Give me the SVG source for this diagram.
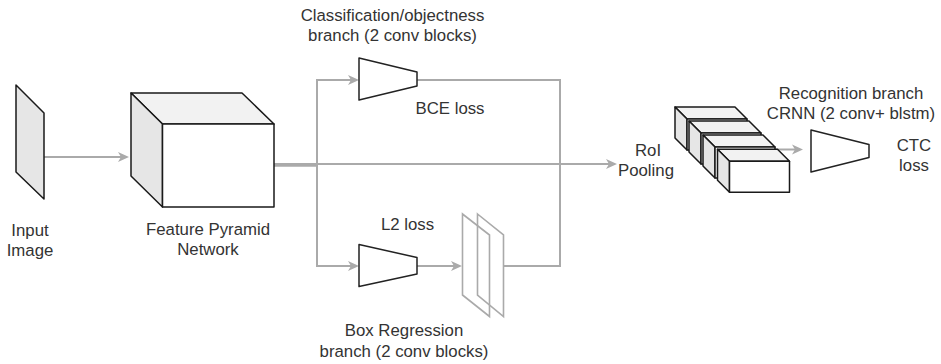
<svg xmlns="http://www.w3.org/2000/svg" width="941" height="364" viewBox="0 0 941 364">
<style>
.t{font-family:"Liberation Sans",Arial,sans-serif;font-size:16.8px;fill:#333;text-anchor:middle}
.e{fill:none;stroke:#aaa;stroke-width:2}
.sh{stroke:#1a1a1a;stroke-width:1.5;stroke-linejoin:round}
.top{fill:#f2f2f2}
.side{fill:#e6e6e6}
.front{fill:#fff}
.trap{fill:#fff;stroke:#222;stroke-width:1.5;stroke-linejoin:round}
.plane{fill:none;stroke:#aaa;stroke-width:1.6}
</style>
<defs>
<marker id="arr" markerUnits="userSpaceOnUse" markerWidth="12" markerHeight="11" refX="5" refY="5" orient="auto" viewBox="0 0 12 10">
<path d="M0,0 L11,5 L0,10 L3,5 Z" fill="#aaa"/>
</marker>
</defs>
<g id="connectors">
<path class="e" d="M44,157 H123" marker-end="url(#arr)"/>
<path class="e" d="M274,165.5 H317 V80 H353" marker-end="url(#arr)"/>
<path class="e" d="M274,165.5 H317 V266 H353" marker-end="url(#arr)"/>
<path class="e" d="M274,164 H611" marker-end="url(#arr)"/>
<path class="e" d="M417,266 H456" marker-end="url(#arr)"/>
<path class="e" d="M417,80 H560 V164"/>
<path class="e" d="M503,266 H560 V164"/>
<path class="e" d="M776,149.5 H797" marker-end="url(#arr)"/>
</g>
<g id="input-image">
<polygon class="sh side" points="16,85 44,113 44,199 16,172"/>
<text class="t" x="30" y="235.5">Input</text>
<text class="t" x="30" y="255.5">Image</text>
</g>
<g id="fpn">
<polygon class="sh top" points="131,93 242,93 274,124 162.5,124"/>
<polygon class="sh side" points="131,93 162.5,124 162.5,207 131,176"/>
<rect class="sh front" x="162.5" y="124" width="111.5" height="83"/>
<text class="t" x="208" y="235">Feature Pyramid</text>
<text class="t" x="208" y="255">Network</text>
</g>
<g id="cls-branch">
<polygon class="trap" points="359,58 417,72 417,86 359,100"/>
<text class="t" x="392.5" y="20.5">Classification/objectness</text>
<text class="t" x="392.5" y="40.5">branch (2 conv blocks)</text>
<text class="t" x="450" y="114">BCE loss</text>
</g>
<g id="box-branch">
<polygon class="trap" points="359,244.5 417,257.5 417,274 359,286.5"/>
<text class="t" x="407.5" y="230">L2 loss</text>
<text class="t" x="404" y="335.5">Box Regression</text>
<text class="t" x="404" y="356.5">branch (2 conv blocks)</text>
</g>
<g id="box-planes">
<polygon class="plane" points="462.5,214 489.5,235 489.5,316.5 462.5,295"/>
<polygon class="plane" points="477.5,214 503.5,235 503.5,316.5 477.5,295"/>
</g>
<g id="roi-pooling">
<text class="t" x="648" y="156">RoI</text>
<text class="t" x="646" y="176">Pooling</text>
<g transform="translate(675,107)">
<polygon class="sh top" points="0,0 60,0 72,12 12,12"/>
<polygon class="sh side" points="0,0 12,12 12,43 0,31"/>
<rect class="sh front" x="12" y="12" width="60" height="31"/>
</g>
<g transform="translate(689,121)">
<polygon class="sh top" points="0,0 60,0 72,12 12,12"/>
<polygon class="sh side" points="0,0 12,12 12,43 0,31"/>
<rect class="sh front" x="12" y="12" width="60" height="31"/>
</g>
<g transform="translate(703,135)">
<polygon class="sh top" points="0,0 60,0 72,12 12,12"/>
<polygon class="sh side" points="0,0 12,12 12,43 0,31"/>
<rect class="sh front" x="12" y="12" width="60" height="31"/>
</g>
<g transform="translate(717.5,149.3)">
<polygon class="sh top" points="0,0 60,0 72,12 12,12"/>
<polygon class="sh side" points="0,0 12,12 12,43 0,31"/>
<rect class="sh front" x="12" y="12" width="60" height="31"/>
</g>
</g>
<g id="recognition">
<polygon class="trap" points="811,130 869,144.5 869,157.5 811,172"/>
<text class="t" x="851" y="99">Recognition branch</text>
<text class="t" x="851" y="118.5">CRNN (2 conv+ blstm)</text>
<text class="t" x="914" y="151">CTC</text>
<text class="t" x="914" y="170.5">loss</text>
</g>
</svg>
